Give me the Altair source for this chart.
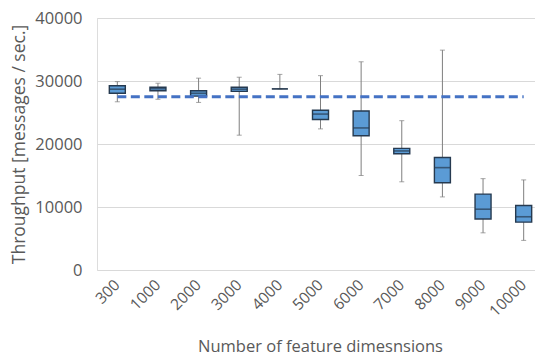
import altair as alt
import pandas as pd

categories = ["300", "1000", "2000", "3000", "4000", "5000", "6000", "7000", "8000", "9000", "10000"]
mins    = [26700, 27100, 26600, 21400, 28750, 22400, 15000, 14000, 11600, 5900, 4700]
q1s     = [28050, 28450, 27600, 28350, 28750, 23900, 21300, 18450, 13850, 8100, 7600]
medians = [28700, 28780, 28050, 28700, 28750, 24750, 22550, 18900, 16250, 9650, 8450]
q3s     = [29250, 29000, 28450, 29000, 28750, 25350, 25250, 19300, 17850, 12050, 10250]
maxs    = [29900, 29650, 30450, 30600, 31050, 30850, 33050, 23700, 34900, 14500, 14300]
baseline = 27500

df = pd.DataFrame({"cat": categories, "min": mins, "q1": q1s, "median": medians,
                   "q3": q3s, "max": maxs, "base": [baseline] * len(categories)})

FONT = "Open Sans"
TXT = "#595959"

xenc = alt.X("cat:N", sort=categories,
             scale=alt.Scale(range=[0, 447], paddingInner=0, paddingOuter=0),
             axis=alt.Axis(title="Number of feature dimesnsions", labelAngle=-45,
                           labelAlign="right", labelBaseline="middle", labelPadding=12,
                           domain=False, ticks=False, grid=False,
                           labelFontSize=15.5, titleFontSize=16.5, titleFontWeight="normal",
                           labelColor=TXT, titleColor=TXT, labelFont=FONT, titleFont=FONT,
                           titlePadding=19, titleX=223, titleAnchor="middle"))

yscale = alt.Scale(domain=[0, 40000])
yaxis = alt.Axis(title="Throughput [messages / sec.]", values=list(range(0, 40001, 5000)),
                 domain=False, ticks=False, gridColor="#D9D9D9", gridWidth=1,
                 labelFontSize=16.5, titleFontSize=17.5, titleFontWeight="normal",
                 labelColor=TXT, titleColor=TXT, labelFont=FONT, titleFont=FONT,
                 labelPadding=15, titlePadding=6, format="d")

base = alt.Chart(df)

whisk = base.mark_rule(color="#7F7F7F", strokeWidth=1).encode(
    x=xenc, y=alt.Y("min:Q", scale=yscale, axis=yaxis), y2="max:Q")
cap_lo = base.mark_tick(color="#7F7F7F", size=5, thickness=1, orient="horizontal").encode(
    x=alt.X("cat:N", sort=categories), y="min:Q")
cap_hi = base.mark_tick(color="#7F7F7F", size=5, thickness=1, orient="horizontal").encode(
    x=alt.X("cat:N", sort=categories), y="max:Q")
box = base.mark_bar(size=16, color="#5B9BD5", stroke="#263A50", strokeWidth=1.4).encode(
    x=alt.X("cat:N", sort=categories), y="q1:Q", y2="q3:Q")
med = base.mark_tick(color="#263A50", size=16, thickness=1.6, orient="horizontal").encode(
    x=alt.X("cat:N", sort=categories), y="median:Q")
dash = base.mark_line(color="#4472C4", strokeWidth=3, strokeDash=[9, 4.5]).encode(
    x=alt.X("cat:N", sort=categories), y="base:Q")

chart = alt.layer(whisk, cap_lo, cap_hi, box, med, dash).properties(
    width=438, height=252,
    autosize=alt.AutoSizeParams(type="none"),
    padding={"left": 97, "top": 18, "right": 0, "bottom": 86},
).configure_view(stroke=None).configure(background="white")

chart.save("out.html", embed_options={"renderer": "svg", "actions": False})
